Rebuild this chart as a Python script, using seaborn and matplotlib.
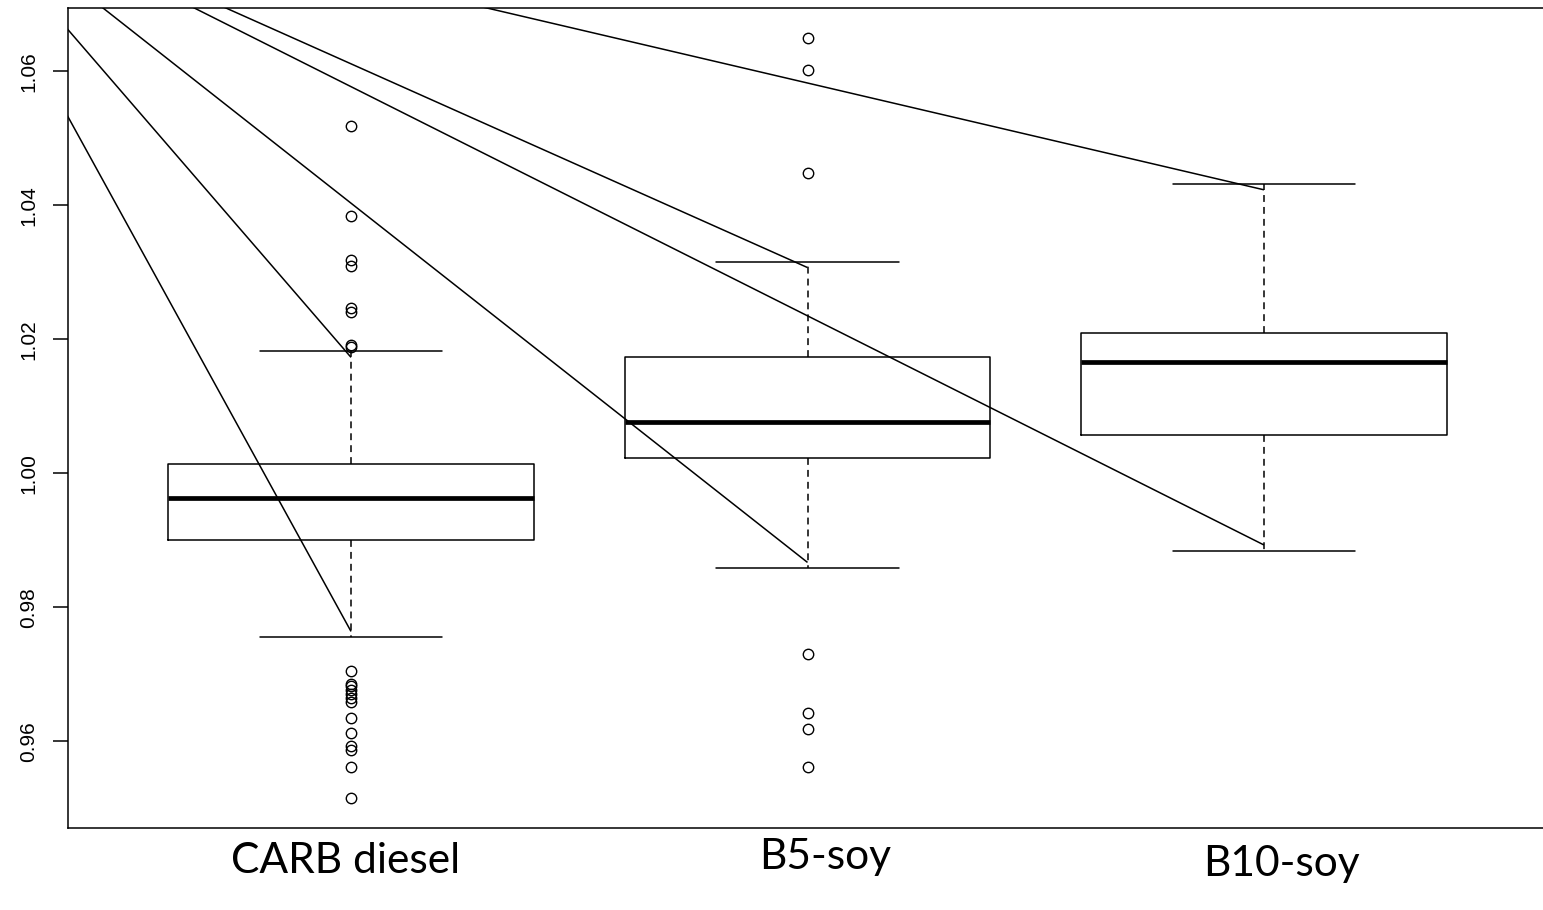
import numpy as np
import pandas as pd
import matplotlib
matplotlib.use("Agg")
import matplotlib.pyplot as plt
import matplotlib.transforms as mtransforms
from matplotlib import cbook
import seaborn as sns

# ---------------- data ----------------
fuels = ["CARB diesel", "B5-soy", "B10-soy"]

carb_values = [
    0.9516, 0.9561, 0.9587, 0.9593, 0.9613, 0.9635, 0.9659, 0.9664, 0.9671,
    0.9676, 0.9682, 0.9686, 0.9705,
    0.9755, 0.9838, 0.9901,
    0.9905, 0.9909, 0.9914, 0.9918, 0.9923, 0.9927, 0.9932, 0.9936, 0.9940,
    0.9944, 0.9949, 0.9953, 0.9957, 0.9960,
    0.9963,
    0.9966, 0.9969, 0.9972, 0.9976, 0.9979, 0.9983, 0.9986, 0.9990, 0.9993,
    0.9997, 1.0001, 1.0004, 1.0008, 1.0011,
    1.0014,
    1.0032, 1.0058, 1.0081, 1.0107, 1.0139, 1.0163,
    1.0182,
    1.0188, 1.0192, 1.0241, 1.0246, 1.0310, 1.0318, 1.0384, 1.0518,
]

b5_values = [
    0.9562, 0.9619, 0.9643, 0.9731,
    0.9858,
    0.9889, 0.9924, 0.9956, 0.9982, 1.0006,
    1.0023,
    1.0028, 1.0034, 1.0040, 1.0046, 1.0052, 1.0058, 1.0064, 1.0069, 1.0073,
    1.0077,
    1.0083, 1.0094, 1.0105, 1.0116, 1.0127, 1.0138, 1.0149, 1.0158, 1.0166,
    1.0173,
    1.0189, 1.0207, 1.0228, 1.0251, 1.0272, 1.0295,
    1.0316,
    1.0448, 1.0602, 1.0649,
]

b10_values = [
    0.9884,
    0.9912, 0.9938, 0.9963, 0.9985, 1.0004, 1.0021, 1.0035, 1.0046, 1.0052,
    1.0057,
    1.0068, 1.0079, 1.0091, 1.0102, 1.0114, 1.0126, 1.0138, 1.0149, 1.0158,
    1.0166,
    1.0170, 1.0174, 1.0178, 1.0182, 1.0187, 1.0192, 1.0197, 1.0201, 1.0205,
    1.0209,
    1.0226, 1.0245, 1.0263, 1.0288, 1.0312, 1.0338, 1.0365, 1.0391, 1.0412,
    1.0432,
]

y_ticks = [0.96, 0.98, 1.00, 1.02, 1.04, 1.06]

# pointer lines: from (cut-off) label anchors above the plot to whisker ends
pointer_fuel = ["CARB diesel", "CARB diesel", "B5-soy", "B5-soy", "B10-soy", "B10-soy"]
pointer_end = ["upper", "lower", "upper", "lower", "upper", "lower"]
pointer_origin_x = [-0.7316, -0.7960, -0.4572, -0.6472, -0.0515, -0.5061]
pointer_origin_y = [1.075, 1.075, 1.075, 1.075, 1.075, 1.075]

# ---------------- figure ----------------
sns.set_style("white")
plt.rcParams["font.family"] = ["Liberation Sans", "DejaVu Sans"]

groups = {"CARB diesel": carb_values, "B5-soy": b5_values, "B10-soy": b10_values}
df = pd.DataFrame({
    "fuel": np.repeat(fuels, [len(groups[f]) for f in fuels]),
    "value": np.concatenate([groups[f] for f in fuels]),
})

W, H = 1543, 910
fig = plt.figure(figsize=(W / 100, H / 100), dpi=100)
fig.patch.set_facecolor("white")
ax = fig.add_axes([68 / W, (H - 828) / H, 1479 / W, 820 / H])

lw = 1.1
sns.boxplot(
    data=df, x="fuel", y="value", order=fuels, ax=ax,
    width=0.8, whis=1.5, fill=False, color="black", linecolor="black",
    linewidth=lw,
    boxprops=dict(color="black", linewidth=lw),
    medianprops=dict(color="black", linewidth=3.4, solid_capstyle="butt"),
    whiskerprops=dict(color="black", linewidth=lw, linestyle=(0, (4.5, 3.3))),
    capprops=dict(color="black", linewidth=lw),
    flierprops=dict(marker="o", markersize=7.5, markerfacecolor="none",
                    markeredgecolor="black", markeredgewidth=1.0),
)

# pointer lines
stats = {f: cbook.boxplot_stats(np.asarray(groups[f]), whis=1.5)[0] for f in fuels}
for f, end, ox, oy in zip(pointer_fuel, pointer_end, pointer_origin_x, pointer_origin_y):
    i = fuels.index(f)
    if end == "upper":
        ey = stats[f]["whishi"] - 0.0009
    else:
        ey = stats[f]["whislo"] + 0.0009
    ax.plot([ox, i], [oy, ey], color="black", linewidth=lw, zorder=5,
            solid_capstyle="butt")

# limits like R's default 4% expansion
all_vals = df["value"].to_numpy()
vmin, vmax = all_vals.min(), all_vals.max()
ext = 0.04 * (vmax - vmin)
ax.set_ylim(vmin - ext, vmax + ext)
ax.set_xlim(-0.62, len(fuels) - 1 + 0.62)

ax.set_yticks(y_ticks)
ax.set_yticklabels([f"{t:.2f}" for t in y_ticks])
ax.tick_params(axis="y", left=True, direction="out", length=10.6, width=lw,
               color="black", pad=11, labelsize=15, labelrotation=90,
               labelcolor="black")
for lab in ax.get_yticklabels():
    lab.set_va("center")
ax.set_xticks([])
ax.set_xlabel("")
ax.set_ylabel("")
for s in ax.spines.values():
    s.set_visible(True)
    s.set_color("black")
    s.set_linewidth(lw)

# category labels (placed below the frame)
blend = mtransforms.blended_transform_factory(ax.transData, fig.transFigure)
label_dx = [-5, 18, 17]
label_baseline = [873, 869, 876]
renderer = fig.canvas.get_renderer()
probe = fig.text(0, 0, fuels[0], fontsize=30, family=["Lato", "DejaVu Sans"])
wpx = probe.get_window_extent(renderer).width
probe.remove()
label_size = 30 * 229 / wpx
for i, f in enumerate(fuels):
    tr = blend + mtransforms.ScaledTranslation(label_dx[i] / 100, 0, fig.dpi_scale_trans)
    ax.text(i, (H - label_baseline[i]) / H, f, transform=tr, ha="center",
            va="baseline", fontsize=label_size, family=["Lato", "DejaVu Sans"],
            color="black", clip_on=False)

fig.savefig("out.png", dpi=100, facecolor="white")
